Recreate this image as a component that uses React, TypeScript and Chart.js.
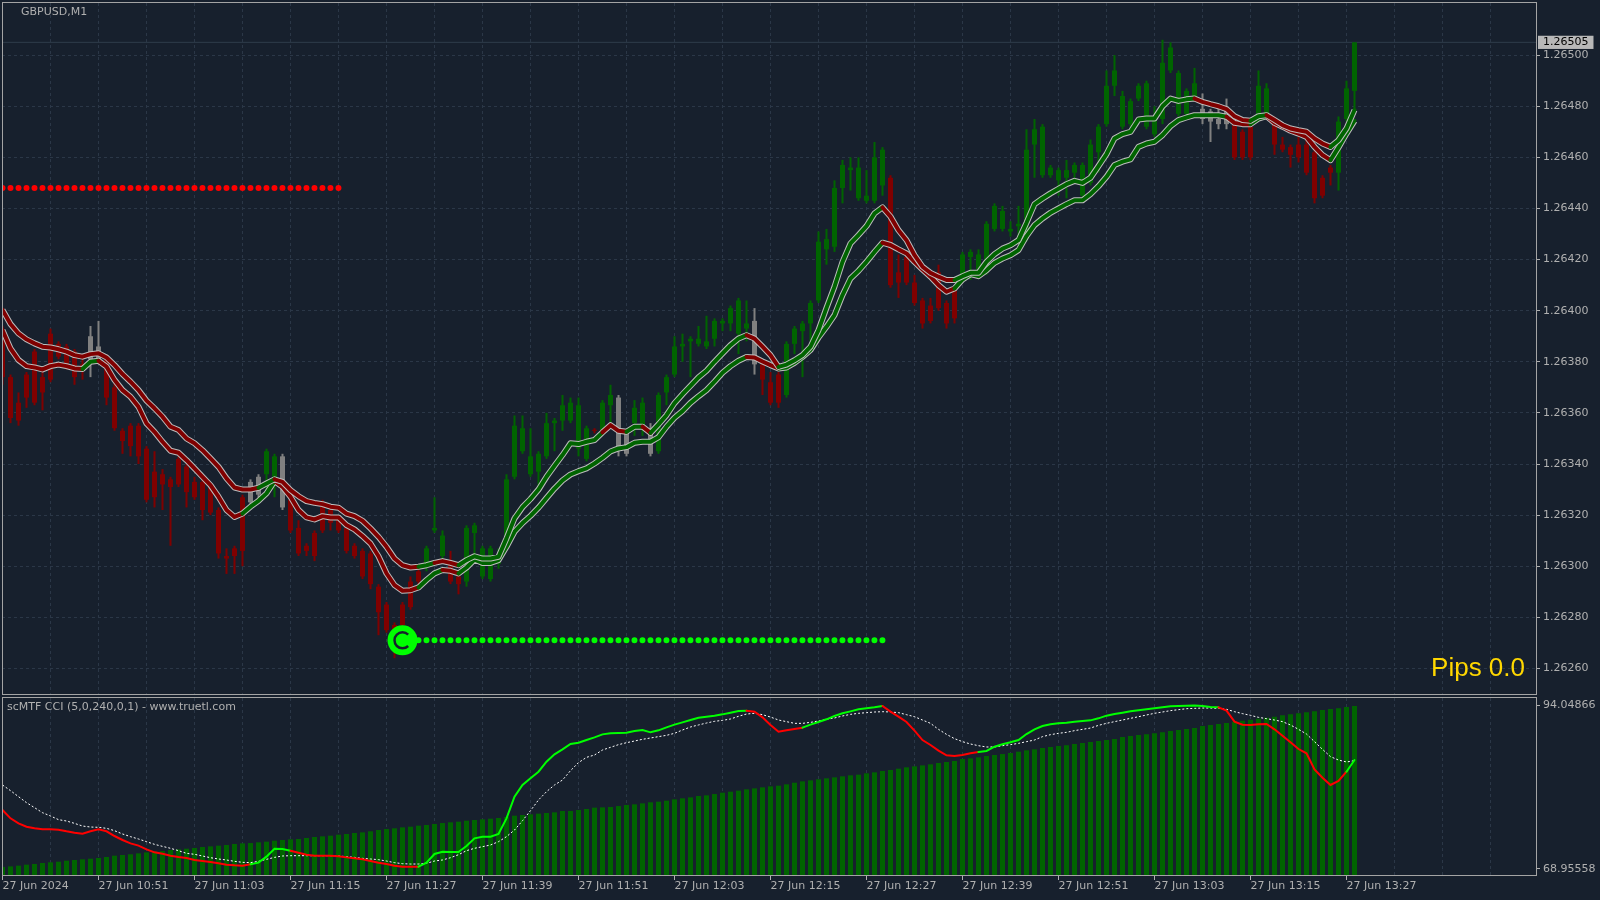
import React, { useEffect, useRef } from 'react';
import { Chart, registerables } from 'chart.js';

Chart.register(...registerables);
Chart.defaults.font.family = 'DejaVu Sans';
Chart.defaults.font.size = 11;

// ---------------- text ----------------
const symbolLabel = 'GBPUSD,M1';
const cciLabel = 'scMTF CCI (5,0,240,0,1) - www.truetl.com';
const pipsLabel = 'Pips 0.0';

// one label every 12 one-minute candles, starting at candle 0
const timeLabels = [
  '27 Jun 2024', '27 Jun 10:51', '27 Jun 11:03', '27 Jun 11:15', '27 Jun 11:27',
  '27 Jun 11:39', '27 Jun 11:51', '27 Jun 12:03', '27 Jun 12:15', '27 Jun 12:27',
  '27 Jun 12:39', '27 Jun 12:51', '27 Jun 13:03', '27 Jun 13:15', '27 Jun 13:27',
];

const priceTicks = [1.2626, 1.2628, 1.263, 1.2632, 1.2634, 1.2636, 1.2638, 1.264, 1.2642, 1.2644, 1.2646, 1.2648, 1.265];
const bidPrice = 1.26505;
const cciTicks = [68.95558, 94.04866];

// horizontal signal levels (price, first candle, last candle)
const resistanceLevel = 1.26448;
const resistanceSpan = [0, 42];
const supportLevel = 1.26271;
const supportSpan = [50, 110];

// ---------------- candles (GBPUSD M1) ----------------
const opens = [
  1.26391,1.26374,1.26364,1.26375,1.26384,1.26374,1.26391,1.26387,1.26386,1.26384,
  1.26379,1.26381,1.26381,1.26382,1.26370,1.26353,1.26355,1.26355,1.26346,1.26337,
  1.26336,1.26334,1.26342,1.26339,1.26333,1.26333,1.26331,1.26322,1.26304,1.26307,
  1.26327,1.26325,1.26328,1.26336,1.26335,1.26343,1.26326,1.26315,1.26308,1.26313,
  1.26325,1.26322,1.26319,1.26315,1.26308,1.26306,1.26305,1.26292,1.26285,1.26277,
  1.26285,1.26294,1.26298,1.26301,1.26314,1.26304,1.26302,1.26296,1.26294,1.26313,
  1.26296,1.26295,1.26301,1.26307,1.26335,1.26345,1.26336,1.26337,1.26343,1.26356,
  1.26357,1.26357,1.26346,1.26342,1.26353,1.26353,1.26363,1.26347,1.26352,1.26356,
  1.26354,1.26344,1.26345,1.26368,1.26375,1.26386,1.26388,1.26387,1.26386,1.26389,
  1.26395,1.26395,1.26391,1.26393,1.26379,1.26379,1.26372,1.26375,1.26367,1.26387,
  1.26392,1.26395,1.26404,1.26424,1.26425,1.26448,1.26455,1.26444,1.26443,1.26443,
  1.26449,1.26452,1.26415,1.26421,1.26411,1.26404,1.26402,1.26415,1.26403,1.26408,
  1.26414,1.26421,1.26416,1.26415,1.26432,1.26432,1.26431,1.26433,1.26428,1.26465,
  1.26453,1.26453,1.26451,1.26452,1.26454,1.26445,1.26450,1.26462,1.26473,1.26488,
  1.26472,1.26473,1.26483,1.26472,1.26469,1.26475,1.26494,1.26477,1.26477,1.26484,
  1.26475,1.26474,1.26473,1.26479,1.26473,1.26470,1.26472,1.26477,1.26477,1.26474,
  1.26465,1.26464,1.26465,1.26465,1.26462,1.26452,1.26456,1.26454,1.26475,1.26486,
];
const highs = [
  1.26394,1.26375,1.26368,1.26376,1.26385,1.26376,1.26393,1.26388,1.26387,1.26385,
  1.26381,1.26394,1.26396,1.26383,1.26372,1.26354,1.26356,1.26356,1.26347,1.26345,
  1.26338,1.26335,1.26343,1.26340,1.26335,1.26334,1.26332,1.26323,1.26307,1.26308,
  1.26328,1.26334,1.26336,1.26346,1.26344,1.26344,1.26327,1.26318,1.26309,1.26314,
  1.26326,1.26324,1.26320,1.26316,1.26309,1.26307,1.26306,1.26293,1.26286,1.26278,
  1.26286,1.26296,1.26299,1.26308,1.26327,1.26314,1.26306,1.26297,1.26316,1.26317,
  1.26308,1.26308,1.26307,1.26336,1.26359,1.26359,1.26354,1.26345,1.26360,1.26358,
  1.26367,1.26366,1.26366,1.26355,1.26354,1.26365,1.26371,1.26367,1.26353,1.26365,
  1.26366,1.26356,1.26368,1.26375,1.26390,1.26391,1.26390,1.26394,1.26398,1.26397,
  1.26397,1.26402,1.26405,1.26404,1.26401,1.26380,1.26376,1.26376,1.26388,1.26394,
  1.26396,1.26404,1.26431,1.26432,1.26451,1.26459,1.26460,1.26460,1.26455,1.26466,
  1.26464,1.26453,1.26422,1.26422,1.26414,1.26405,1.26405,1.26418,1.26404,1.26409,
  1.26423,1.26424,1.26424,1.26435,1.26442,1.26441,1.26435,1.26441,1.26471,1.26475,
  1.26473,1.26457,1.26456,1.26459,1.26458,1.26458,1.26467,1.26473,1.26494,1.26500,
  1.26486,1.26483,1.26489,1.26490,1.26480,1.26506,1.26505,1.26494,1.26487,1.26495,
  1.26485,1.26479,1.26479,1.26483,1.26474,1.26471,1.26473,1.26494,1.26489,1.26476,
  1.26468,1.26465,1.26468,1.26467,1.26463,1.26453,1.26457,1.26476,1.26490,1.26505,
];
const lows = [
  1.26371,1.26356,1.26355,1.26362,1.26363,1.26361,1.26372,1.26381,1.26377,1.26371,
  1.26373,1.26374,1.26379,1.26363,1.26353,1.26344,1.26343,1.26340,1.26325,1.26323,
  1.26322,1.26308,1.26331,1.26323,1.26326,1.26318,1.26320,1.26303,1.26297,1.26297,
  1.26300,1.26324,1.26327,1.26327,1.26327,1.26322,1.26313,1.26304,1.26304,1.26302,
  1.26313,1.26314,1.26313,1.26305,1.26303,1.26295,1.26291,1.26273,1.26274,1.26264,
  1.26276,1.26283,1.26293,1.26298,1.26313,1.26303,1.26293,1.26289,1.26292,1.26304,
  1.26295,1.26294,1.26299,1.26306,1.26334,1.26344,1.26335,1.26331,1.26342,1.26345,
  1.26353,1.26356,1.26343,1.26341,1.26352,1.26352,1.26354,1.26343,1.26343,1.26351,
  1.26351,1.26343,1.26344,1.26363,1.26374,1.26380,1.26374,1.26386,1.26385,1.26386,
  1.26392,1.26392,1.26383,1.26388,1.26375,1.26367,1.26363,1.26362,1.26366,1.26383,
  1.26374,1.26388,1.26403,1.26418,1.26423,1.26442,1.26447,1.26443,1.26442,1.26442,
  1.26445,1.26409,1.26405,1.26410,1.26402,1.26393,1.26395,1.26400,1.26393,1.26395,
  1.26412,1.26412,1.26414,1.26414,1.26431,1.26431,1.26429,1.26426,1.26427,1.26452,
  1.26452,1.26452,1.26445,1.26444,1.26452,1.26444,1.26449,1.26454,1.26472,1.26484,
  1.26471,1.26472,1.26482,1.26471,1.26468,1.26473,1.26493,1.26476,1.26476,1.26483,
  1.26473,1.26466,1.26471,1.26471,1.26459,1.26459,1.26459,1.26476,1.26476,1.26461,
  1.26462,1.26456,1.26458,1.26453,1.26442,1.26444,1.26449,1.26447,1.26474,1.26479,
];
const closes = [
  1.26374,1.26358,1.26357,1.26366,1.26364,1.26368,1.26373,1.26382,1.26378,1.26374,
  1.26377,1.26390,1.26386,1.26366,1.26354,1.26349,1.26347,1.26343,1.26326,1.26327,
  1.26332,1.26331,1.26332,1.26329,1.26327,1.26322,1.26321,1.26305,1.26303,1.26304,
  1.26306,1.26333,1.26335,1.26345,1.26343,1.26323,1.26314,1.26305,1.26306,1.26304,
  1.26314,1.26317,1.26314,1.26306,1.26304,1.26296,1.26293,1.26282,1.26275,1.26270,
  1.26277,1.26284,1.26294,1.26307,1.26315,1.26312,1.26294,1.26293,1.26315,1.26316,
  1.26307,1.26307,1.26303,1.26334,1.26355,1.26354,1.26343,1.26344,1.26356,1.26357,
  1.26363,1.26364,1.26363,1.26354,1.26353,1.26364,1.26367,1.26366,1.26344,1.26362,
  1.26364,1.26354,1.26367,1.26374,1.26386,1.26387,1.26389,1.26389,1.26388,1.26396,
  1.26396,1.26401,1.26404,1.26395,1.26396,1.26373,1.26364,1.26364,1.26387,1.26393,
  1.26395,1.26403,1.26427,1.26428,1.26448,1.26457,1.26456,1.26456,1.26445,1.26460,
  1.26463,1.26410,1.26411,1.26411,1.26403,1.26395,1.26396,1.26401,1.26395,1.26397,
  1.26422,1.26423,1.26422,1.26434,1.26441,1.26439,1.26432,1.26434,1.26463,1.26471,
  1.26472,1.26456,1.26455,1.26455,1.26457,1.26457,1.26465,1.26472,1.26488,1.26494,
  1.26484,1.26482,1.26488,1.26489,1.26475,1.26497,1.26503,1.26493,1.26486,1.26489,
  1.26479,1.26478,1.26475,1.26473,1.26460,1.26460,1.26460,1.26488,1.26487,1.26465,
  1.26463,1.26461,1.26460,1.26454,1.26444,1.26445,1.26454,1.26474,1.26487,1.26505,
];
// trend colour of each candle: g = up, r = down, n = neutral
const candleTone =
  'r'.repeat(11) + 'nn' + 'r'.repeat(18) + 'nn' + 'gg' + 'n' + 'r'.repeat(17) + 'ggg' + 'rr' +
  'g'.repeat(16) + 'r' + 'gg' + 'nn' + 'gg' + 'n' + 'g'.repeat(12) + 'n' + 'rrr' + 'g'.repeat(13) +
  'r'.repeat(9) + 'g'.repeat(30) + 'nnnn' + 'rrr' + 'gg' + 'r'.repeat(8) + 'ggg';

// ---------------- moving-average band ----------------
const maUpper = [
  1.264003,1.263948,1.263911,1.263888,1.263872,1.263859,1.263856,1.263849,1.263840,1.263826,
  1.263820,1.263830,1.263833,1.263817,1.263787,1.263752,1.263722,1.263689,1.263648,1.263618,
  1.263585,1.263546,1.263533,1.263500,1.263481,1.263454,1.263422,1.263389,1.263344,1.263308,
  1.263300,1.263300,1.263307,1.263324,1.263340,1.263330,1.263298,1.263274,1.263255,1.263248,
  1.263243,1.263233,1.263229,1.263206,1.263196,1.263178,1.263148,1.263115,1.263076,1.263030,
  1.263004,1.262995,1.262998,1.263004,1.263013,1.263020,1.263013,1.263004,1.263024,1.263039,
  1.263030,1.263030,1.263037,1.263109,1.263187,1.263231,1.263263,1.263300,1.263350,1.263393,
  1.263435,1.263481,1.263478,1.263487,1.263494,1.263524,1.263552,1.263530,1.263526,1.263546,
  1.263546,1.263522,1.263555,1.263591,1.263638,1.263673,1.263706,1.263739,1.263765,1.263800,
  1.263833,1.263865,1.263891,1.263904,1.263891,1.263859,1.263826,1.263780,1.263789,1.263806,
  1.263826,1.263859,1.263924,1.264011,1.264094,1.264191,1.264263,1.264296,1.264331,1.264381,
  1.264404,1.264368,1.264315,1.264276,1.264217,1.264172,1.264148,1.264133,1.264120,1.264120,
  1.264135,1.264148,1.264148,1.264191,1.264221,1.264243,1.264256,1.264276,1.264344,1.264417,
  1.264439,1.264459,1.264477,1.264495,1.264508,1.264500,1.264520,1.264566,1.264613,1.264674,
  1.264691,1.264700,1.264748,1.264752,1.264752,1.264800,1.264830,1.264821,1.264827,1.264830,
  1.264817,1.264808,1.264800,1.264789,1.264761,1.264746,1.264743,1.264761,1.264765,1.264746,
  1.264726,1.264713,1.264706,1.264700,1.264674,1.264654,1.264641,1.264667,1.264713,1.264785,
];
const maLower = [
  1.263924,1.263852,1.263807,1.263783,1.263778,1.263770,1.263783,1.263789,1.263783,1.263774,
  1.263772,1.263800,1.263804,1.263781,1.263729,1.263689,1.263663,1.263624,1.263559,1.263526,
  1.263487,1.263452,1.263444,1.263415,1.263383,1.263350,1.263317,1.263272,1.263220,1.263193,
  1.263206,1.263233,1.263256,1.263285,1.263333,1.263311,1.263272,1.263220,1.263191,1.263183,
  1.263196,1.263191,1.263191,1.263161,1.263144,1.263118,1.263089,1.263039,1.262972,1.262926,
  1.262904,1.262906,1.262917,1.262946,1.262972,1.262985,1.262982,1.262972,1.262995,1.263026,
  1.263013,1.263013,1.263024,1.263076,1.263135,1.263169,1.263197,1.263229,1.263267,1.263304,
  1.263336,1.263359,1.263372,1.263383,1.263402,1.263424,1.263449,1.263461,1.263466,1.263483,
  1.263487,1.263487,1.263505,1.263546,1.263581,1.263607,1.263639,1.263665,1.263689,1.263722,
  1.263757,1.263783,1.263804,1.263819,1.263817,1.263801,1.263787,1.263774,1.263778,1.263796,
  1.263819,1.263846,1.263895,1.263937,1.263983,1.264061,1.264126,1.264156,1.264191,1.264230,
  1.264266,1.264257,1.264240,1.264224,1.264191,1.264161,1.264133,1.264100,1.264074,1.264087,
  1.264122,1.264143,1.264135,1.264158,1.264187,1.264204,1.264217,1.264237,1.264292,1.264335,
  1.264361,1.264383,1.264400,1.264417,1.264432,1.264432,1.264456,1.264487,1.264524,1.264570,
  1.264583,1.264592,1.264641,1.264654,1.264661,1.264687,1.264722,1.264746,1.264756,1.264765,
  1.264765,1.264765,1.264765,1.264759,1.264735,1.264730,1.264730,1.264752,1.264761,1.264735,
  1.264720,1.264704,1.264693,1.264680,1.264641,1.264609,1.264589,1.264639,1.264693,1.264743,
];
const maUpperTone =
  'r'.repeat(33) + 'gg' + 'r'.repeat(18) + 'gg' + 'rrr' + 'g'.repeat(18) + 'rrr' + 'gg' + 'r' +
  'g'.repeat(12) + 'rrrr' + 'g'.repeat(13) + 'r'.repeat(9) + 'g'.repeat(30) + 'r'.repeat(7) + 'gg' +
  'r'.repeat(8) + 'ggg';
const maLowerTone =
  'r'.repeat(11) + 'gg' + 'r'.repeat(18) + 'gggg' + 'r'.repeat(18) + 'ggg' + 'rr' + 'g'.repeat(36) +
  'rrrr' + 'g'.repeat(13) + 'r'.repeat(9) + 'g'.repeat(34) + 'rrr' + 'gg' + 'r'.repeat(8) + 'ggg';

// ---------------- scMTF CCI sub-window ----------------
const cciHist = [
  69.26,69.36,69.47,69.62,69.72,69.88,69.98,70.08,70.23,70.34,
  70.44,70.54,70.64,70.80,71.00,71.10,71.21,71.36,71.51,71.61,
  71.72,71.87,71.97,72.07,72.18,72.33,72.43,72.54,72.64,72.79,
  72.89,72.94,73.05,73.15,73.30,73.41,73.51,73.56,73.71,73.87,
  73.97,74.07,74.22,74.33,74.48,74.58,74.74,74.94,75.09,75.20,
  75.35,75.45,75.61,75.71,75.86,76.01,76.12,76.22,76.37,76.48,
  76.58,76.68,76.78,76.94,77.14,77.24,77.35,77.45,77.55,77.65,
  77.86,77.86,78.01,78.16,78.37,78.42,78.47,78.62,78.78,78.88,
  79.03,79.19,79.29,79.44,79.65,79.80,79.95,80.16,80.26,80.46,
  80.67,80.82,80.98,81.18,81.33,81.49,81.64,81.74,81.95,82.20,
  82.41,82.56,82.72,82.87,83.02,83.18,83.33,83.43,83.64,83.79,
  84.00,84.15,84.35,84.56,84.71,84.86,85.02,85.22,85.38,85.53,
  85.84,85.94,86.09,86.30,86.45,86.60,86.76,86.96,87.17,87.32,
  87.53,87.68,87.83,87.93,88.14,88.29,88.45,88.60,88.75,88.91,
  89.21,89.37,89.52,89.62,89.78,89.93,90.13,90.29,90.44,90.59,
  90.90,91.06,91.21,91.36,91.57,91.72,91.88,92.03,92.18,92.33,
  92.54,92.69,92.85,93.00,93.15,93.36,93.51,93.61,93.82,93.97,
];
const cciLine = [
  78.01,76.73,75.96,75.45,75.20,75.04,75.04,74.99,74.74,74.53,
  74.38,74.74,75.04,74.74,74.02,73.41,72.89,72.54,71.97,71.51,
  71.31,71.00,70.80,70.64,70.34,70.18,70.03,69.83,69.62,69.52,
  69.47,69.67,69.93,70.85,72.07,72.02,71.77,71.46,71.15,71.00,
  71.00,71.00,70.90,70.74,70.59,70.44,70.18,69.93,69.72,69.47,
  69.31,69.31,69.31,69.93,71.26,71.61,71.56,71.56,72.48,73.66,
  73.92,73.92,74.33,76.73,80.06,81.85,82.87,83.89,85.43,86.55,
  87.32,88.14,88.34,88.75,89.16,89.62,89.78,89.83,89.88,90.13,
  90.29,89.93,90.24,90.70,91.11,91.46,91.82,92.18,92.33,92.49,
  92.69,92.95,93.20,93.26,93.10,92.23,91.06,90.03,90.24,90.44,
  90.65,91.11,91.52,91.93,92.44,92.85,93.15,93.46,93.61,93.77,
  93.97,93.10,92.33,91.52,90.19,88.75,87.99,87.12,86.40,86.30,
  86.45,86.71,86.91,87.07,87.73,88.09,88.40,88.75,89.67,90.39,
  90.90,91.16,91.31,91.41,91.57,91.67,91.77,92.08,92.49,92.74,
  92.95,93.15,93.31,93.46,93.61,93.77,93.92,93.97,94.02,94.05,
  93.97,93.82,93.77,93.26,91.57,91.11,91.06,91.16,91.21,90.39,
  89.42,88.40,87.37,86.71,84.25,82.97,81.85,82.46,83.89,85.68,
];
const cciTone =
  'r'.repeat(32) + 'g'.repeat(5) + 'r'.repeat(16) + 'g'.repeat(41) + 'r'.repeat(7) + 'g'.repeat(10) +
  'r'.repeat(12) + 'g'.repeat(30) + 'r'.repeat(16) + 'g';
const cciSignal = [
  81.85,80.98,80.06,79.14,78.37,77.60,77.09,76.53,76.32,75.96,
  75.55,75.40,75.35,75.20,74.84,74.33,73.92,73.56,73.15,72.74,
  72.43,72.13,71.77,71.36,71.21,70.95,70.69,70.49,70.34,70.13,
  69.98,69.93,70.13,70.44,70.74,70.95,71.00,71.00,71.00,71.00,
  71.00,71.00,70.95,70.85,70.74,70.59,70.49,70.39,70.18,69.93,
  69.77,69.72,69.72,69.83,70.18,70.34,70.69,71.15,71.77,72.13,
  72.38,72.64,73.15,73.92,74.94,76.37,77.91,79.55,80.82,81.85,
  82.61,84.05,85.28,86.09,86.45,87.22,87.63,88.04,88.34,88.60,
  88.86,89.06,89.27,89.47,89.78,90.29,90.75,91.06,91.36,91.62,
  91.77,91.98,92.39,92.74,92.85,92.64,92.28,91.82,91.57,91.31,
  91.31,91.46,91.67,91.93,92.13,92.44,92.69,92.85,92.95,93.05,
  93.10,93.05,92.95,92.64,92.33,91.82,91.31,90.39,89.62,88.96,
  88.50,88.14,87.88,87.68,87.68,87.88,88.04,88.24,88.50,88.75,
  89.27,89.57,89.78,89.93,90.19,90.39,90.59,91.00,91.31,91.57,
  91.82,92.08,92.33,92.59,92.85,93.05,93.26,93.41,93.56,93.61,
  93.66,93.66,93.61,93.46,93.10,92.80,92.54,92.23,92.03,91.82,
  91.57,91.06,90.39,89.67,88.50,87.32,86.20,85.68,85.38,85.58,
];

// ---------------- styling ----------------
const BG = '#17202d';
const GRID = '#2b3747';
const TEXT = '#b0b0b0';
const FRAME = '#a4a4a4';
const OUTLINE = '#bdbdbd';
const UP = '#006400';
const DOWN = '#800000';
const FLAT = '#808080';
const LIME = '#00ff00';
const HOT_RED = '#ff0000';
const BID_LINE = '#2f3b4a';
const CLEAR = 'rgba(0,0,0,0)';
const FONT = { family: 'DejaVu Sans', size: 11 };

const X_MIN = -0.0625;
const X_MAX = 191.6875;
const PRICE_MIN = 1.2625;
const PRICE_MAX = 1.265204;
const CCI_MIN = 67.881;
const CCI_MAX = 95.2;
const GRID_STEP = 6;
const LABEL_STEP = 12;
const DOT_DASH = [0, 7.999];

const toneColor = (t: string) => (t === 'g' ? UP : t === 'r' ? DOWN : FLAT);
const tickIsBid = (c: any) => !!(c && c.tick && Math.abs(c.tick.value - bidPrice) < 1e-7);

const pinAxis = (width: number | null, height: number | null) => (scale: any) => {
  if (width !== null) scale.width = width;
  if (height !== null) scale.height = height;
  scale.paddingTop = 0;
  scale.paddingBottom = 0;
  scale.paddingLeft = 0;
  scale.paddingRight = 0;
};

const gridTicks = (scale: any) => {
  const t: any[] = [];
  for (let v = 0; v <= X_MAX; v += GRID_STEP) t.push({ value: v });
  scale.ticks = t;
};

const timeLabelFor = (v: number) => {
  const k = v / LABEL_STEP;
  return Number.isInteger(k) && timeLabels[k] ? timeLabels[k] : '';
};
const tickHasLabel = (c: any) => !!(c && c.tick && timeLabelFor(c.tick.value));

export default function App() {
  const mainRef = useRef<HTMLCanvasElement>(null);
  const subRef = useRef<HTMLCanvasElement>(null);

  useEffect(() => {
    const idx = opens.map((_, i) => i);
    const candleColors = idx.map((i) => toneColor(candleTone[i]));
    const bodies = idx.map((i) => ({ x: i, y: [Math.min(opens[i], closes[i]), Math.max(opens[i], closes[i])] }));
    const wicks = idx.map((i) => ({ x: i, y: [lows[i], highs[i]] }));
    const upperPts = maUpper.map((y, i) => ({ x: i, y }));
    const lowerPts = maLower.map((y, i) => ({ x: i, y }));

    const mainDecor = {
      id: 'mainDecor',
      afterDatasetsDraw(chart: any) {
        const { ctx, scales } = chart;
        const cx = scales.x.getPixelForValue(supportSpan[0]);
        const cy = scales.y.getPixelForValue(supportLevel);
        ctx.save();
        ctx.fillStyle = LIME;
        ctx.beginPath();
        ctx.arc(cx, cy, 15, 0, Math.PI * 2);
        ctx.fill();
        ctx.strokeStyle = BG;
        ctx.lineWidth = 2.5;
        ctx.beginPath();
        ctx.arc(cx, cy, 8, Math.PI * 0.25, Math.PI * 1.75);
        ctx.stroke();
        ctx.restore();
      },
      afterDraw(chart: any) {
        const { ctx, chartArea: a } = chart;
        ctx.save();
        ctx.strokeStyle = FRAME;
        ctx.lineWidth = 1;
        ctx.strokeRect(a.left + 0.5, a.top - 0.5, a.right - a.left, a.bottom - a.top + 1);
        ctx.fillStyle = TEXT;
        ctx.font = '11px "DejaVu Sans"';
        ctx.textBaseline = 'middle';
        ctx.textAlign = 'left';
        ctx.fillText(symbolLabel, 21, 12.5);
        ctx.fillStyle = '#ffd700';
        ctx.font = '26px "Liberation Sans"';
        ctx.textAlign = 'right';
        ctx.textBaseline = 'alphabetic';
        ctx.fillText(pipsLabel, 1525, 676);
        ctx.restore();
      },
    };

    const xScaleBase = {
      type: 'linear', min: X_MIN, max: X_MAX, offset: false,
      afterBuildTicks: gridTicks,
      border: { display: false, dash: [3, 3] },
    };

    const main = new Chart(mainRef.current as HTMLCanvasElement, {
      type: 'line',
      data: {
        datasets: [
          {
            data: [{ x: resistanceSpan[0], y: resistanceLevel }, { x: resistanceSpan[1], y: resistanceLevel }],
            borderColor: HOT_RED, borderWidth: 6, borderDash: DOT_DASH, borderCapStyle: 'round',
            pointRadius: 0, order: 0,
          },
          {
            data: [{ x: supportSpan[0], y: supportLevel }, { x: supportSpan[1], y: supportLevel }],
            borderColor: LIME, borderWidth: 6, borderDash: DOT_DASH, borderCapStyle: 'round',
            pointRadius: 0, order: 0,
          },
          {
            data: upperPts, borderWidth: 4, borderColor: UP, pointRadius: 0, order: 1,
            borderCapStyle: 'round', borderJoinStyle: 'round',
            segment: { borderColor: (c: any) => toneColor(maUpperTone[c.p1DataIndex]) },
          },
          { data: upperPts, borderWidth: 6, borderColor: OUTLINE, pointRadius: 0, order: 2, borderJoinStyle: 'round' },
          {
            data: lowerPts, borderWidth: 4, borderColor: UP, pointRadius: 0, order: 3,
            borderCapStyle: 'round', borderJoinStyle: 'round',
            segment: { borderColor: (c: any) => toneColor(maLowerTone[c.p1DataIndex]) },
          },
          { data: lowerPts, borderWidth: 6, borderColor: OUTLINE, pointRadius: 0, order: 4, borderJoinStyle: 'round' },
          {
            type: 'bar', data: bodies, backgroundColor: candleColors, barThickness: 5, grouped: false,
            minBarLength: 1, borderWidth: 0, inflateAmount: 0, order: 5,
          },
          {
            type: 'bar', data: wicks, backgroundColor: candleColors, barThickness: 2, grouped: false,
            borderWidth: 0, inflateAmount: 0, order: 6,
          },
          {
            data: [{ x: X_MIN, y: bidPrice }, { x: X_MAX, y: bidPrice }],
            borderColor: BID_LINE, borderWidth: 1, pointRadius: 0, order: 7,
          },
        ] as any,
      },
      options: {
        animation: false,
        responsive: false,
        devicePixelRatio: 1,
        events: [],
        layout: { padding: { left: 2, top: 3, right: 0, bottom: 206 } },
        plugins: { legend: { display: false }, tooltip: { enabled: false } },
        scales: {
          x: {
            ...xScaleBase,
            afterFit: pinAxis(null, 0),
            ticks: { display: false },
            grid: { color: GRID, drawTicks: false, offset: false },
          },
          y: {
            type: 'linear', position: 'right', min: PRICE_MIN, max: PRICE_MAX, offset: false,
            afterFit: pinAxis(64, null),
            afterBuildTicks: (s: any) => { s.ticks = [...priceTicks, bidPrice].map((v) => ({ value: v })); },
            ticks: {
              autoSkip: false, padding: 3, font: FONT,
              color: (c: any) => (tickIsBid(c) ? '#000000' : TEXT),
              callback: (v: any) => Number(v).toFixed(5),
              showLabelBackdrop: (c: any) => tickIsBid(c),
              backdropColor: '#b8b8b8',
              backdropPadding: { top: 0, bottom: 0, left: 5, right: 5 },
            },
            grid: {
              color: (c: any) => (tickIsBid(c) ? CLEAR : GRID),
              tickColor: (c: any) => (tickIsBid(c) ? CLEAR : TEXT),
              tickLength: 4, tickBorderDash: [],
            },
            border: { display: false, dash: [3, 3] },
          },
        },
      } as any,
      plugins: [mainDecor],
    });

    const subDecor = {
      id: 'subDecor',
      afterDraw(chart: any) {
        const { ctx, chartArea: a } = chart;
        ctx.save();
        ctx.strokeStyle = FRAME;
        ctx.lineWidth = 1;
        ctx.strokeRect(a.left + 0.5, a.top - 0.5, a.right - a.left, a.bottom - a.top);
        ctx.fillStyle = TEXT;
        ctx.font = '11px "DejaVu Sans"';
        ctx.textBaseline = 'middle';
        ctx.textAlign = 'left';
        ctx.fillText(cciLabel, 7, 707);
        ctx.restore();
      },
    };

    const sub = new Chart(subRef.current as HTMLCanvasElement, {
      type: 'line',
      data: {
        datasets: [
          {
            data: cciLine.map((y, i) => ({ x: i, y })), borderWidth: 2, borderColor: LIME,
            pointRadius: 0, order: 0, borderCapStyle: 'round',
            segment: { borderColor: (c: any) => (cciTone[c.p1DataIndex] === 'g' ? LIME : HOT_RED) },
          },
          {
            data: cciSignal.map((y, i) => ({ x: i, y })), borderWidth: 1, borderColor: '#ffffff',
            borderDash: [2, 2], pointRadius: 0, order: 1,
          },
          {
            type: 'bar', data: cciHist.map((v, i) => ({ x: i, y: [CCI_MIN, v] })), backgroundColor: UP,
            barThickness: 5, grouped: false, borderWidth: 0, inflateAmount: 0, order: 2,
          },
        ] as any,
      },
      options: {
        animation: false,
        responsive: false,
        devicePixelRatio: 1,
        events: [],
        layout: { padding: { left: 2, top: 698, right: 0, bottom: 0 } },
        plugins: { legend: { display: false }, tooltip: { enabled: false } },
        scales: {
          x: {
            ...xScaleBase,
            position: 'bottom',
            afterFit: pinAxis(null, 24),
            ticks: {
              autoSkip: false, maxRotation: 0, minRotation: 0, align: 'start', padding: 0,
              font: FONT, color: TEXT, callback: (v: any) => timeLabelFor(Number(v)),
            },
            grid: {
              color: GRID, offset: false,
              tickColor: (c: any) => (tickHasLabel(c) ? TEXT : CLEAR),
              tickLength: 4, tickBorderDash: [],
            },
          },
          y: {
            type: 'linear', position: 'right', min: CCI_MIN, max: CCI_MAX, offset: false,
            afterFit: pinAxis(64, null),
            afterBuildTicks: (s: any) => { s.ticks = cciTicks.map((v) => ({ value: v })); },
            ticks: { autoSkip: false, padding: 3, font: FONT, color: TEXT, callback: (v: any) => Number(v).toFixed(5) },
            grid: { drawOnChartArea: false, tickColor: TEXT, tickLength: 4 },
            border: { display: false },
          },
        },
      } as any,
      plugins: [subDecor],
    });

    return () => {
      main.destroy();
      sub.destroy();
    };
  }, []);

  return (
    <div style={{ position: 'fixed', left: 0, top: 0, width: 1600, height: 900, background: BG, overflow: 'hidden' }}>
      <canvas ref={mainRef} width={1600} height={900} style={{ position: 'absolute', left: 0, top: 0, width: 1600, height: 900 }} />
      <canvas ref={subRef} width={1600} height={900} style={{ position: 'absolute', left: 0, top: 0, width: 1600, height: 900 }} />
    </div>
  );
}
